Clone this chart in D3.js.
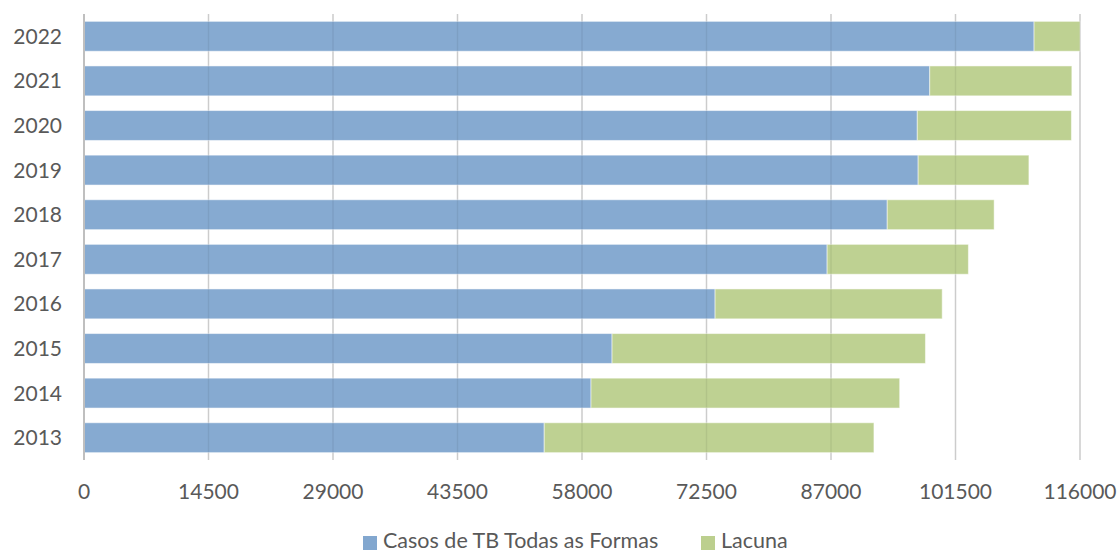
<!DOCTYPE html>
<html>
<head>
<meta charset="utf-8">
<script src="https://cdn.jsdelivr.net/npm/d3@7"></script>
<style>
  html, body { margin: 0; padding: 0; background: #fff; }
  svg { display: block; font-family: Lato, "Open Sans", sans-serif; }
</style>
</head>
<body>
<svg id="chart" width="1120" height="554"></svg>
<script>
// Years shown on the vertical axis (bottom to top)
const years = ["2013", "2014", "2015", "2016", "2017", "2018", "2019", "2020", "2021", "2022"];
// Notified TB cases, all forms
const casos = [53600, 59050, 61500, 73500, 86550, 93550, 97150, 97050, 98500, 110650];
// Gap between estimated and notified cases
const lacuna = [38400, 35950, 36500, 26450, 16450, 12450, 12900, 17950, 16550, 5350];
// Horizontal axis ticks
const xTicks = [0, 14500, 29000, 43500, 58000, 72500, 87000, 101500, 116000];

const seriesNames = ["Casos de TB Todas as Formas", "Lacuna"];
const colors = ["#82a7cf", "#bccf8e"];

const svg = d3.select("#chart");
const margin = { left: 84, right: 40, top: 14, bottom: 94 };
const W = 1120, H = 554;

const x = d3.scaleLinear().domain([0, 116000]).range([margin.left, W - margin.right]);
const y = d3.scaleBand().domain(years.slice().reverse())
  .range([margin.top, H - margin.bottom]).paddingInner(0.33).paddingOuter(0.165);

const rows = years.map((yr, i) => ({ year: yr, casos: casos[i], lacuna: lacuna[i] }));
const stacked = d3.stack().keys(["casos", "lacuna"])(rows);

// Vertical gridlines
svg.append("g").selectAll("line").data(xTicks.slice(1)).join("line")
  .attr("x1", d => x(d)).attr("x2", d => x(d))
  .attr("y1", margin.top).attr("y2", H - margin.bottom)
  .attr("stroke", "#d9d9d9").attr("stroke-width", 1.5);

// Stacked bars
svg.append("g").selectAll("g").data(stacked).join("g")
  .attr("fill", (d, i) => colors[i])
  .selectAll("rect").data(d => d).join("rect")
  .attr("x", d => x(d[0]))
  .attr("width", d => x(d[1]) - x(d[0]))
  .attr("y", d => y(d.data.year))
  .attr("height", y.bandwidth())
  .attr("fill-opacity", 0.97)
  .attr("stroke", "#ffffff").attr("stroke-opacity", 0.5).attr("stroke-width", 1);

// Gridlines faintly visible through the bars
svg.append("g").selectAll("line").data(xTicks.slice(1)).join("line")
  .attr("x1", d => x(d)).attr("x2", d => x(d))
  .attr("y1", margin.top).attr("y2", H - margin.bottom)
  .attr("stroke", "#000").attr("stroke-opacity", 0.06).attr("stroke-width", 1.5);

// Category axis line
svg.append("line")
  .attr("x1", x(0)).attr("x2", x(0))
  .attr("y1", margin.top).attr("y2", H - margin.bottom)
  .attr("stroke", "#bfbfbf").attr("stroke-width", 2);

// Year labels
svg.append("g").selectAll("text").data(years).join("text")
  .attr("x", 62).attr("y", d => y(d) + y.bandwidth() / 2)
  .attr("dy", "0.36em").attr("text-anchor", "end")
  .attr("font-size", 21).attr("fill", "#595959")
  .text(d => d);

// Value axis labels
svg.append("g").selectAll("text").data(xTicks).join("text")
  .attr("x", d => x(d)).attr("y", 499)
  .attr("text-anchor", "middle")
  .attr("font-size", 21).attr("fill", "#595959")
  .text(d => d);

// Legend
const legend = svg.append("g");
const legendItems = [
  { name: seriesNames[0], color: colors[0], x: 363 },
  { name: seriesNames[1], color: colors[1], x: 701 }
];
legendItems.forEach(it => {
  legend.append("rect").attr("x", it.x).attr("y", 536).attr("width", 14).attr("height", 14)
    .attr("fill", it.color);
  legend.append("text").attr("x", it.x + 20).attr("y", 548)
    .attr("font-size", 21.5).attr("fill", "#595959").text(it.name);
});
</script>
</body>
</html>
